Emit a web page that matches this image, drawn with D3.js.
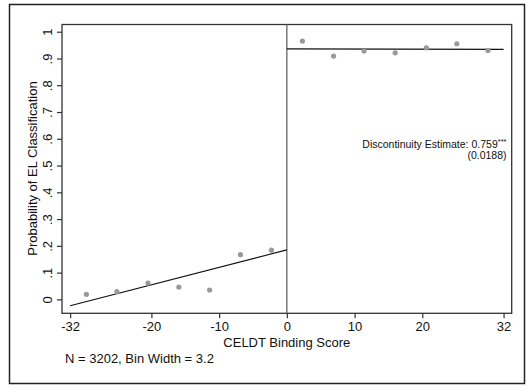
<!DOCTYPE html>
<html>
<head>
<meta charset="utf-8">
<script src="https://cdn.jsdelivr.net/npm/d3@7"></script>
<style>
  body { margin: 0; background: #fff; }
  text { font-family: "Liberation Sans", Arial, sans-serif; fill: #111; }
</style>
</head>
<body>
<div id="chartdiv"></div>
<script>
// binned means (left and right of the cutoff)
var leftBinX = [-29.6, -25.1, -20.5, -15.95, -11.4, -6.85, -2.27];
var leftBinY = [0.019, 0.029, 0.061, 0.046, 0.035, 0.167, 0.184];
var rightBinX = [2.3, 6.9, 11.4, 16.0, 20.6, 25.1, 29.7];
var rightBinY = [0.965, 0.909, 0.928, 0.921, 0.940, 0.955, 0.930];

// fitted lines
var leftFitX = [-32, 0];
var leftFitY = [-0.024, 0.185];
var rightFitX = [0, 32];
var rightFitY = [0.936, 0.934];

var xTicks = [-32, -20, -10, 0, 10, 20, 32];
var xTickLabels = ["-32", "-20", "-10", "0", "10", "20", "32"];
var yTicks = [0, 0.1, 0.2, 0.3, 0.4, 0.5, 0.6, 0.7, 0.8, 0.9, 1];
var yTickLabels = ["0", ".1", ".2", ".3", ".4", ".5", ".6", ".7", ".8", ".9", "1"];

var svg = d3.select("div#chartdiv").append("svg")
    .attr("width", 530)
    .attr("height", 387);

// outer frame
svg.append("rect")
    .attr("x", 9.5).attr("y", 4.5)
    .attr("width", 515).attr("height", 379)
    .attr("fill", "none")
    .attr("stroke", "#222")
    .attr("stroke-width", 1.5);

var x = d3.scaleLinear().domain([-33.2, 33.2]).range([62, 511.7]);
var y = d3.scaleLinear().domain([-0.052, 1.027]).range([313.3, 24.5]);

// plot box
svg.append("rect")
    .attr("x", x.range()[0]).attr("y", y.range()[1])
    .attr("width", x.range()[1] - x.range()[0])
    .attr("height", y.range()[0] - y.range()[1])
    .attr("fill", "none")
    .attr("stroke", "#333")
    .attr("stroke-width", 1.3);

// axes
var xAxis = svg.append("g")
    .attr("transform", "translate(0," + y.range()[0] + ")")
    .call(d3.axisBottom(x).tickValues(xTicks).tickSize(5).tickPadding(3)
        .tickFormat(function (d, i) { return xTickLabels[i]; }));

var yAxis = svg.append("g")
    .attr("transform", "translate(" + x.range()[0] + ",0)")
    .call(d3.axisLeft(y).tickValues(yTicks).tickSize(5)
        .tickFormat(function (d, i) { return yTickLabels[i]; }));

[xAxis, yAxis].forEach(function (g) {
    g.select(".domain").remove();
    g.selectAll("line").attr("stroke", "#333").attr("stroke-width", 1.2);
    g.selectAll("text").attr("font-size", 13).attr("fill", "#111")
        .style("font-family", '"Liberation Sans", Arial, sans-serif');
});

// rotated y tick labels (Stata style)
yAxis.selectAll("text")
    .attr("x", null).attr("dy", null)
    .attr("text-anchor", "middle")
    .attr("transform", "translate(-10,0) rotate(-90)");

// axis titles
svg.append("text")
    .attr("x", 286.8).attr("y", 347)
    .attr("text-anchor", "middle")
    .attr("font-size", 13)
    .text("CELDT Binding Score");

svg.append("text")
    .attr("transform", "translate(37,168.5) rotate(-90)")
    .attr("text-anchor", "middle")
    .attr("font-size", 13)
    .text("Probability of EL Classification");

svg.append("text")
    .attr("x", 65).attr("y", 363)
    .attr("font-size", 13)
    .text("N = 3202, Bin Width = 3.2");

// cutoff line
svg.append("line")
    .attr("x1", x(0)).attr("x2", x(0))
    .attr("y1", y.range()[1]).attr("y2", y.range()[0])
    .attr("stroke", "#666")
    .attr("stroke-width", 1.3);

// fitted lines
var line = d3.line()
    .x(function (d) { return x(d[0]); })
    .y(function (d) { return y(d[1]); });

[[leftFitX, leftFitY], [rightFitX, rightFitY]].forEach(function (f) {
    svg.append("path")
        .datum(d3.zip(f[0], f[1]))
        .attr("d", line)
        .attr("fill", "none")
        .attr("stroke", "#111")
        .attr("stroke-width", 1.1);
});

// binned points
var pts = d3.zip(leftBinX, leftBinY).concat(d3.zip(rightBinX, rightBinY));
svg.selectAll("circle.bin")
    .data(pts)
    .enter()
    .append("circle")
    .classed("bin", true)
    .attr("cx", function (d) { return x(d[0]); })
    .attr("cy", function (d) { return y(d[1]); })
    .attr("r", 2.6)
    .attr("fill", "#999");

// annotation
var note = svg.append("text")
    .attr("x", 506.5).attr("y", 147.5)
    .attr("text-anchor", "end")
    .attr("font-size", 10.5);
note.append("tspan").text("Discontinuity Estimate: 0.759");
note.append("tspan").attr("font-size", 7.5).attr("dy", -3.5).text("***");

svg.append("text")
    .attr("x", 506.5).attr("y", 159)
    .attr("text-anchor", "end")
    .attr("font-size", 10.5)
    .text("(0.0188)");
</script>
</body>
</html>
